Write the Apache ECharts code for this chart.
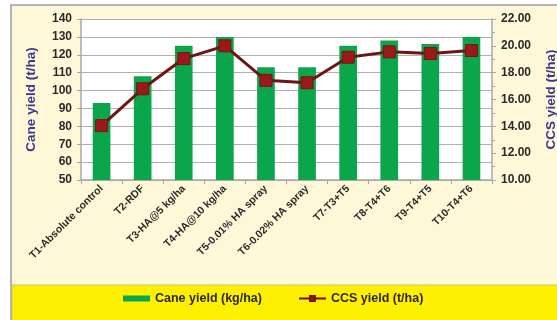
<!DOCTYPE html>
<html>
<head>
<meta charset="utf-8">
<script src="https://cdn.jsdelivr.net/npm/echarts@6/dist/echarts.min.js"></script>
<style>
  html, body { margin: 0; padding: 0; background: #ffffff; }
  #chart { width: 557px; height: 320px; }
</style>
</head>
<body>
<div id="chart"></div>
<script>
// Treatments
var categories = [
  'T1-Absolute control', 'T2-RDF', 'T3-HA@5 kg/ha', 'T4-HA@10 kg/ha',
  'T5-0.01% HA spray', 'T6-0.02% HA spray', 'T7-T3+T5', 'T8-T4+T6',
  'T9-T4+T5', 'T10-T4+T6'
];
// Cane yield (t/ha), left axis
var caneYield = [93, 108, 125, 130, 113, 113, 125, 128, 126, 130];
// CCS yield (t/ha), right axis
var ccsYield = [14.05, 16.8, 19.05, 20.0, 17.43, 17.25, 19.15, 19.55, 19.43, 19.65];

var FONT = '"Liberation Sans Narrow", "Liberation Sans", Arial, sans-serif';
var TITLE_COLOR = '#3a3a8c';

var chart = echarts.init(document.getElementById('chart'), null, { renderer: 'canvas' });

chart.setOption({
  animation: false,
  backgroundColor: '#ffffff',
  graphic: [
    { type: 'rect', z: -10, shape: { x: 11, y: 5, width: 560, height: 320 },
      style: { fill: '#fff8d8', stroke: '#9a9aa6', lineWidth: 1.5 } },
    { type: 'rect', z: -9, shape: { x: 12, y: 285, width: 560, height: 40 },
      style: { fill: '#ffef00', stroke: '#c8c27a', lineWidth: 1 } }
  ],
  grid: { left: 81, right: 65, top: 19, bottom: 140, containLabel: false,
          outerBoundsMode: 'none',
          show: true, backgroundColor: '#ffffff', borderWidth: 0 },
  legend: {
    bottom: 10, left: 118, itemGap: 36, itemWidth: 27, itemHeight: 6,
    textStyle: { fontFamily: FONT, fontSize: 12.5, fontWeight: 'bold', color: '#2a2a2a' },
    data: [
      { name: 'Cane yield (kg/ha)', icon: 'rect' },
      { name: 'CCS yield (t/ha)' }
    ]
  },
  xAxis: {
    type: 'category',
    data: categories,
    axisLine: { lineStyle: { color: '#a8a8a8', width: 1.5 } },
    axisTick: { show: true, alignWithLabel: false, length: 4, lineStyle: { color: '#a8a8a8' } },
    axisLabel: {
      interval: 0, rotate: 45, margin: 7,
      fontFamily: FONT, fontSize: 10.5, fontWeight: 'bold', color: '#2a2a2a'
    }
  },
  yAxis: [
    {
      type: 'value', min: 50, max: 140, interval: 10,
      name: 'Cane yield (t/ha)', nameLocation: 'middle', nameGap: 43, nameRotate: 90,
      nameTextStyle: { fontFamily: FONT, fontSize: 13.5, fontWeight: 'bold', color: TITLE_COLOR },
      axisLine: { show: true, lineStyle: { color: '#a8a8a8', width: 1.5 } },
      axisTick: { show: true, length: 4, lineStyle: { color: '#a8a8a8' } },
      axisLabel: { fontFamily: FONT, fontSize: 12, fontWeight: 'bold', color: '#2a2a2a', margin: 9 },
      splitLine: { show: true, lineStyle: { color: '#b0b0b0', width: 1.2 } }
    },
    {
      type: 'value', min: 10, max: 22, interval: 2,
      name: 'CCS yield (t/ha)', nameLocation: 'middle', nameGap: 52, nameRotate: 90,
      nameTextStyle: { fontFamily: FONT, fontSize: 13.5, fontWeight: 'bold', color: TITLE_COLOR },
      axisLine: { show: true, lineStyle: { color: '#a8a8a8', width: 1.5 } },
      axisTick: { show: true, length: 4, lineStyle: { color: '#a8a8a8' } },
      minorTick: { show: true, splitNumber: 2, length: 3, lineStyle: { color: '#a8a8a8' } },
      axisLabel: { fontFamily: FONT, fontSize: 12, fontWeight: 'bold', color: '#2a2a2a', margin: 9,
        formatter: function (v) { return v.toFixed(2); } },
      splitLine: { show: false }
    }
  ],
  series: [
    {
      name: 'Cane yield (kg/ha)', type: 'bar', yAxisIndex: 0,
      data: caneYield, barWidth: '43%',
      itemStyle: { color: '#0ba64c' }
    },
    {
      name: 'CCS yield (t/ha)', type: 'line', yAxisIndex: 1,
      data: ccsYield,
      symbol: 'rect', symbolSize: 12,
      lineStyle: { color: '#6e1414', width: 3 },
      itemStyle: { color: '#9a1a1a', borderColor: '#7a1212', borderWidth: 1 }
    }
  ]
});
</script>
</body>
</html>
